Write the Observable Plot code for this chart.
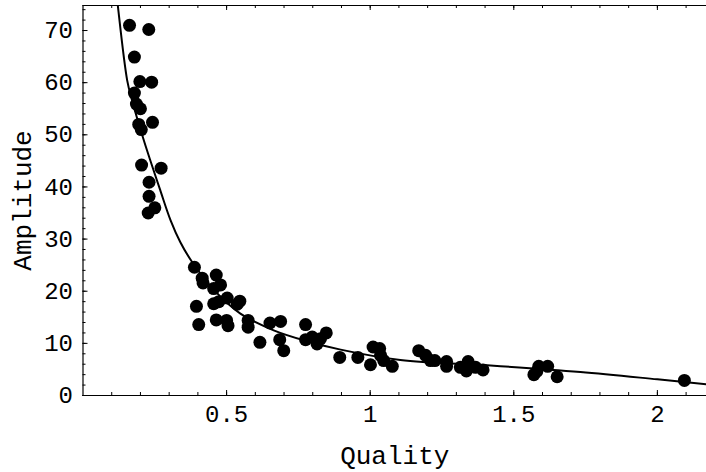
<!DOCTYPE html>
<html>
<head>
<meta charset="utf-8">
<script src="https://cdn.jsdelivr.net/npm/d3@7"></script>
<script src="https://cdn.jsdelivr.net/npm/@observablehq/plot@0.6"></script>
<style>
  html, body { margin: 0; padding: 0; background: #fff; }
  #chart svg { display: block; }
</style>
</head>
<body>
<div id="chart"></div>
<script>
// Measured points
const quality = [0.162,0.229,0.179,0.198,0.239,0.179,0.186,0.200,0.194,0.242,0.203,0.204,0.272,0.230,0.230,0.227,0.250,
  0.388,0.415,0.418,0.464,0.479,0.455,0.395,0.455,0.473,0.502,0.537,0.546,0.403,0.464,0.500,0.505,0.575,0.575,0.616,
  0.651,0.688,0.685,0.699,0.775,0.775,0.798,0.815,0.827,0.847,0.894,0.957,1.010,1.033,1.001,1.036,1.047,1.077,
  1.169,1.193,1.210,1.225,1.266,1.266,1.341,1.314,1.335,1.367,1.393,1.587,1.618,1.570,1.580,1.651,2.094];
const amplitude = [71.0,70.2,64.9,60.2,60.1,58.0,55.9,55.0,52.0,52.4,51.0,44.2,43.6,40.9,38.2,35.0,36.0,
  24.6,22.5,21.6,23.1,21.2,20.5,17.1,17.6,18.0,18.7,17.5,18.1,13.6,14.5,14.4,13.4,14.4,13.1,10.2,
  13.9,14.2,10.7,8.6,13.6,10.7,11.2,9.9,10.9,12.0,7.3,7.3,9.3,9.0,5.9,7.7,6.7,5.6,
  8.6,7.7,6.7,6.7,6.5,5.6,6.5,5.4,4.7,5.4,4.9,5.6,5.6,4.0,4.6,3.6,2.9];

// Fitted curve
const curveQ = [0.115,0.121,0.154,0.171,0.212,0.27,0.305,0.339,0.38,0.455,0.548,0.664,0.781,0.897,1.105,1.419,1.732,2.0,2.2];
const curveA = [78.0,74.9,60.4,56.6,48.9,39.2,33.6,29.4,25.6,20.3,15.7,12.5,10.4,8.8,6.8,5.75,4.5,3.1,2.0];

const xMajor = [0.5, 1, 1.5, 2];
const xMinor = d3.range(1, 22).map(i => i / 10);
const yMajor = [0, 10, 20, 30, 40, 50, 60, 70];
const yMinor = d3.range(0, 76, 2);

const points = quality.map((q, i) => ({q, a: amplitude[i]}));
const curve = curveQ.map((q, i) => ({q, a: curveA[i]}));

const font = "Liberation Mono, monospace";
const W = 706, H = 472, ML = 82.5, MR = 0, MT = 5, MB = 77;
const plotW = W - ML - MR, plotH = H - MT - MB;

const chart = Plot.plot({
  width: W,
  height: H,
  marginLeft: ML,
  marginRight: MR,
  marginTop: MT,
  marginBottom: MB,
  style: {fontFamily: font, fontSize: "24px", color: "#000", background: "#fff"},
  x: {domain: [0, 2.171]},
  y: {domain: [0, 74.8]},
  marks: [
    Plot.frame({anchor: "left", stroke: "#000", strokeWidth: 1.2}),
    Plot.frame({anchor: "bottom", stroke: "#000", strokeWidth: 1.2}),
    Plot.frame({anchor: "top", stroke: "#000", strokeWidth: 1.2}),
    // tick labels and titles
    Plot.axisX(xMajor, {anchor: "bottom", tickSize: 0, tickPadding: 9, tickFormat: d => String(d), fontSize: 24,
      label: "Quality", labelAnchor: "center", labelArrow: "none", labelOffset: 68}),
    Plot.axisY(yMajor, {anchor: "left", tickSize: 0, tickPadding: 10, tickFormat: d => String(d), fontSize: 24,
      label: "Amplitude", labelAnchor: "center", labelArrow: "none", labelOffset: 70}),
    // inward ticks: bottom
    Plot.ruleX(xMajor, {x: d => d, insetTop: plotH - 5, stroke: "#000"}),
    Plot.ruleX(xMinor, {x: d => d, insetTop: plotH - 3, stroke: "#000"}),
    // top
    Plot.ruleX(xMajor, {x: d => d, insetBottom: plotH - 5, stroke: "#000"}),
    Plot.ruleX(xMinor, {x: d => d, insetBottom: plotH - 3, stroke: "#000"}),
    // left
    Plot.ruleY(yMajor, {y: d => d, insetRight: plotW - 5, stroke: "#000"}),
    Plot.ruleY(yMinor, {y: d => d, insetRight: plotW - 3, stroke: "#000"}),
    Plot.line(curve, {x: "q", y: "a", curve: "catmull-rom", stroke: "#000", strokeWidth: 2, clip: true}),
    Plot.dot(points, {x: "q", y: "a", r: 6.5, fill: "#000", stroke: "none"})
  ]
});
chart.querySelectorAll("[aria-label='x-axis label'] text, [aria-label='y-axis label'] text").forEach(t => t.setAttribute("font-size", "26"));
document.getElementById("chart").append(chart);
</script>
</body>
</html>
